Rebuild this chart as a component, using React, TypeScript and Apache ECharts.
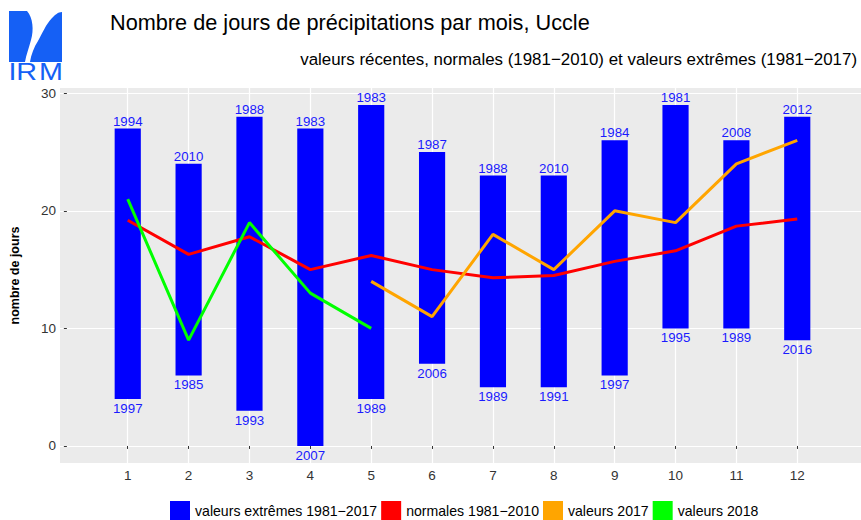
import React, { useEffect, useRef } from "react";
import * as echarts from "echarts";

const months = [1, 2, 3, 4, 5, 6, 7, 8, 9, 10, 11, 12];
const extremeMin = [4, 6, 3, 0, 4, 7, 5, 5, 6, 10, 10, 9];
const extremeMax = [27, 24, 28, 27, 29, 25, 23, 23, 26, 29, 26, 28];
const yearMin = ["1997", "1985", "1993", "2007", "1989", "2006", "1989", "1991", "1997", "1995", "1989", "2016"];
const yearMax = ["1994", "2010", "1988", "1983", "1983", "1987", "1988", "2010", "1984", "1981", "2008", "2012"];
const normals = [19.2, 16.3, 17.8, 15.0, 16.2, 15.0, 14.3, 14.5, 15.7, 16.6, 18.7, 19.3];
const months2017 = [5, 6, 7, 8, 9, 10, 11, 12];
const values2017 = [14, 11, 18, 15, 20, 19, 24, 26];
const months2018 = [1, 2, 3, 4, 5];
const values2018 = [21, 9, 19, 13, 10];
const yTicks = [0, 10, 20, 30];

const nameExt = "valeurs extrêmes 1981\u22122017";
const nameNorm = "normales 1981\u22122010";
const name2017 = "valeurs 2017";
const name2018 = "valeurs 2018";

const FONT = "'Liberation Sans', Arial, Helvetica, sans-serif";

const logoPath =
  "M9 11 L27 11 C33 18 34 30 31 40 C29 48 26 55 25 62 L9 62 Z " +
  "M62 12 L62 62 L30 62 C31 55 34 47 38 41 C42 34 46 24 52 18 C55 15 58 12 62 12 Z";
try {
  echarts.graphic.registerShape("logo", echarts.graphic.extendPath(logoPath, {}) as any);
} catch (e) {}

export default function App() {
  const ref = useRef<HTMLDivElement>(null);
  useEffect(() => {
    if (!ref.current) return;
    const chart = echarts.init(ref.current, null, { renderer: "svg" });
    const logoBlue = "#1560F5";
    const logoText = (t: string, x: number, align: string) => ({
      type: "text",
      x,
      y: 72.5,
      scaleX: 1.25,
      style: { text: t, fill: logoBlue, fontSize: 23, fontWeight: "normal", fontFamily: FONT, align, verticalAlign: "middle" },
    });
    const option: any = {
      animation: false,
      backgroundColor: "#ffffff",
      textStyle: { fontFamily: FONT },
      title: [
        {
          text: "Nombre de jours de précipitations par mois, Uccle",
          left: 110,
          top: 11,
          padding: 0,
          textStyle: { fontFamily: FONT, fontSize: 21.7, fontWeight: "normal", color: "#000" },
        },
        {
          text: "valeurs récentes, normales (1981\u22122010) et valeurs extrêmes (1981\u22122017)",
          right: 4,
          top: 51,
          padding: 0,
          textStyle: { fontFamily: FONT, fontSize: 16.9, fontWeight: "normal", color: "#000" },
        },
      ],
      graphic: [
        { type: "logo", x: 0, y: 0, style: { fill: logoBlue } },
        logoText("I", 8.5, "left"),
        logoText("R", 26.5, "center"),
        logoText("M", 51, "center"),
      ],
      legend: {
        left: 170,
        top: 501,
        padding: 0,
        icon: "rect",
        itemWidth: 20,
        itemHeight: 20,
        itemGap: 4,
        textStyle: { fontFamily: FONT, fontSize: 14.1, color: "#000" },
        data: [nameExt, nameNorm, name2017, name2018],
      },
      grid: {
        left: 60,
        top: 88,
        width: 805,
        height: 375,
        show: true,
        backgroundColor: "#EBEBEB",
        borderWidth: 0,
        containLabel: false,
        outerBoundsMode: "none",
      },
      xAxis: {
        type: "value",
        min: -0.113,
        max: 13.113,
        axisLine: { show: false },
        axisTick: { show: true, length: 3, customValues: months, lineStyle: { color: "#333333", width: 1 } },
        axisLabel: { customValues: months, margin: 5, fontSize: 13.5, color: "#333333", fontFamily: FONT },
        splitLine: { show: true, lineStyle: { color: "#FFFFFF", width: 1.2 } },
      },
      yAxis: {
        type: "value",
        min: -1.45,
        max: 30.45,
        name: "nombre de jours",
        nameLocation: "middle",
        nameGap: 39,
        nameRotate: 90,
        nameTextStyle: { fontFamily: FONT, fontSize: 12.5, fontWeight: "bold", color: "#000" },
        axisLine: { show: false },
        axisTick: { show: true, length: 3, customValues: yTicks, lineStyle: { color: "#333333", width: 1 } },
        axisLabel: { customValues: yTicks, margin: 4, fontSize: 13.5, color: "#333333", fontFamily: FONT },
        splitLine: { show: true, lineStyle: { color: "#FFFFFF", width: 1.2 } },
      },
      series: [
        {
          name: nameExt,
          type: "custom",
          color: "#0000FF",
          itemStyle: { color: "#0000FF" },
          data: months.map((m, i) => [m, extremeMin[i], extremeMax[i]]),
          encode: { x: 0, y: [1, 2] },
          renderItem: (params: any, api: any) => {
            const x = api.value(0);
            const lo = api.value(1);
            const hi = api.value(2);
            const pTop = api.coord([x, hi]);
            const pBot = api.coord([x, lo]);
            const w = api.size([0.43, 0])[0];
            const i = params.dataIndex;
            return {
              type: "group",
              children: [
                {
                  type: "rect",
                  shape: { x: pTop[0] - w / 2, y: pTop[1], width: w, height: pBot[1] - pTop[1] },
                  style: { fill: "#0000FF" },
                },
                {
                  type: "text",
                  x: pTop[0],
                  y: pTop[1] - 1,
                  style: { text: yearMax[i], fill: "#1A1AFF", fontSize: 13.3, fontFamily: FONT, align: "center", verticalAlign: "bottom" },
                },
                {
                  type: "text",
                  x: pBot[0],
                  y: pBot[1] + 3,
                  style: { text: yearMin[i], fill: "#1A1AFF", fontSize: 13.3, fontFamily: FONT, align: "center", verticalAlign: "top" },
                },
              ],
            };
          },
          z: 2,
        },
        {
          name: nameNorm,
          type: "line",
          color: "#FF0000",
          showSymbol: false,
          symbol: "none",
          lineStyle: { width: 3, color: "#FF0000" },
          data: months.map((m, i) => [m, normals[i]]),
          z: 3,
        },
        {
          name: name2017,
          type: "line",
          color: "#FFA500",
          showSymbol: false,
          symbol: "none",
          lineStyle: { width: 3, color: "#FFA500" },
          data: months2017.map((m, i) => [m, values2017[i]]),
          z: 4,
        },
        {
          name: name2018,
          type: "line",
          color: "#00FF00",
          showSymbol: false,
          symbol: "none",
          lineStyle: { width: 3, color: "#00FF00" },
          data: months2018.map((m, i) => [m, values2018[i]]),
          z: 5,
        },
      ],
    };
    chart.setOption(option);
    return () => chart.dispose();
  }, []);
  return (
    <div
      ref={ref}
      style={{ position: "fixed", left: 0, top: 0, width: 861, height: 520 }}
    />
  );
}
